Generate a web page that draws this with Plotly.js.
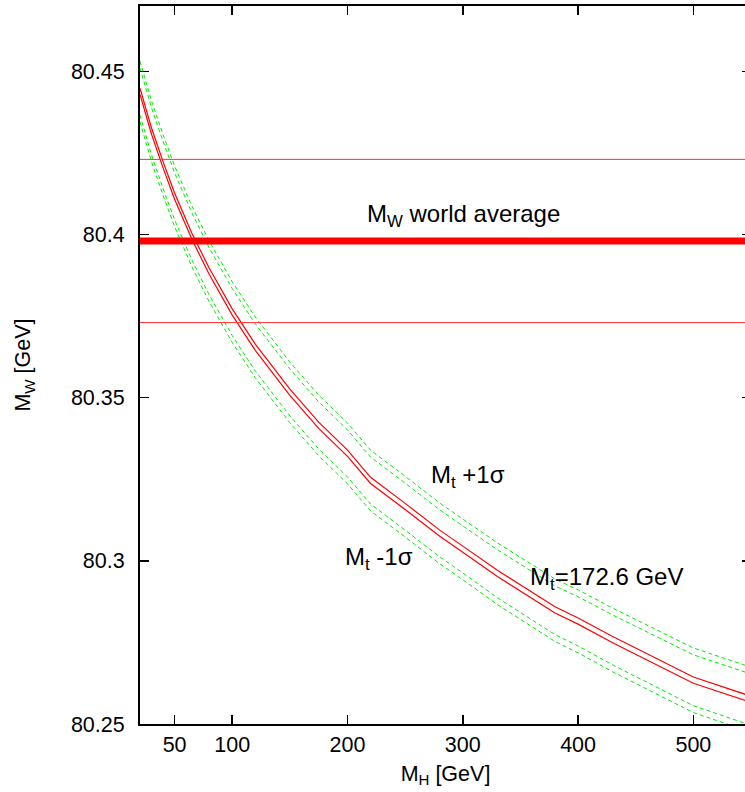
<!DOCTYPE html>
<html>
<head>
<meta charset="utf-8">
<script src="https://cdn.plot.ly/plotly-3.0.1.min.js"></script>
<style>
html, body { margin: 0; padding: 0; overflow: hidden; background: #fff; }
#chart { width: 752px; height: 792px; }
</style>
</head>
<body>
<div id="chart"></div>
<script>
// Higgs mass [GeV]
const mH = [20, 30, 40, 50, 65, 80, 100, 120, 150, 175, 200, 220, 250, 280, 300, 330, 380, 400, 430, 470, 500, 550];

// Central prediction, M_t = 172.6 GeV (two edges)
const mwCentralHi = [80.4448, 80.4326, 80.4223, 80.4127, 80.4004, 80.3897, 80.3772, 80.3664, 80.3526, 80.3425, 80.3339, 80.3256, 80.3176, 80.3094, 80.3045, 80.2971, 80.2859, 80.2825, 80.2768, 80.2697, 80.2644, 80.2585];
const mwCentralLo = [80.4429, 80.4307, 80.4204, 80.4108, 80.3985, 80.3878, 80.3753, 80.3645, 80.3507, 80.3406, 80.3320, 80.3237, 80.3157, 80.3075, 80.3026, 80.2952, 80.2840, 80.2806, 80.2749, 80.2678, 80.2625, 80.2566];

// M_t + 1 sigma (two edges)
const mwPlusHi = [80.4531, 80.4409, 80.4306, 80.4210, 80.4087, 80.3980, 80.3855, 80.3747, 80.3609, 80.3508, 80.3422, 80.3339, 80.3259, 80.3177, 80.3128, 80.3055, 80.2944, 80.2911, 80.2855, 80.2785, 80.2733, 80.2674];
const mwPlusLo = [80.4510, 80.4388, 80.4285, 80.4189, 80.4066, 80.3959, 80.3834, 80.3726, 80.3588, 80.3487, 80.3401, 80.3318, 80.3238, 80.3156, 80.3107, 80.3034, 80.2923, 80.2890, 80.2834, 80.2764, 80.2712, 80.2653];

// M_t - 1 sigma (two edges)
const mwMinusHi = [80.4366, 80.4244, 80.4141, 80.4045, 80.3922, 80.3815, 80.3690, 80.3582, 80.3444, 80.3343, 80.3257, 80.3174, 80.3094, 80.3012, 80.2963, 80.2887, 80.2774, 80.2739, 80.2681, 80.2609, 80.2556, 80.2496];
const mwMinusLo = [80.4345, 80.4223, 80.4120, 80.4024, 80.3901, 80.3794, 80.3669, 80.3561, 80.3423, 80.3322, 80.3236, 80.3153, 80.3073, 80.2991, 80.2942, 80.2866, 80.2753, 80.2718, 80.2660, 80.2588, 80.2535, 80.2475];

// M_W world average and its 1-sigma band
const mwWorldAverage = [80.398];
const mwBandEdges = [80.423, 80.373];

// Ticks
const xTickVals = [50, 100, 200, 300, 400, 500];
const yTickVals = [80.25, 80.3, 80.35, 80.4, 80.45];
const yTickText = ['80.25', '80.3', '80.35', '80.4', '80.45'];

const FONT = 'Liberation Sans, Arial, Helvetica, sans-serif';
const xSpan = [20, 550];

function curve(y, color, dash, width) {
  return {x: mH, y: y, mode: 'lines', type: 'scatter', hoverinfo: 'skip',
          line: {color: color, width: width, dash: dash}, showlegend: false};
}
function hline(v, width, color) {
  return {x: xSpan, y: [v, v], mode: 'lines', type: 'scatter', hoverinfo: 'skip',
          line: {color: color, width: width}, showlegend: false};
}

const green = 'rgb(0,235,0)';
const traces = [
  curve(mwPlusHi, green, '4px,3px', 1),
  curve(mwPlusLo, green, '4px,3px', 1),
  curve(mwMinusHi, green, '4px,3px', 1),
  curve(mwMinusLo, green, '4px,3px', 1),
  curve(mwCentralHi, '#ff0000', 'solid', 1.2),
  curve(mwCentralLo, '#ff0000', 'solid', 1.2)
];
mwBandEdges.forEach(v => traces.push(hline(v, 1, 'rgb(255,50,50)')));
mwWorldAverage.forEach(v => traces.push(hline(v, 7, '#ff0000')));

const TICK = 21.5;
const annFont = {family: FONT, size: 24, color: '#000'};
const layout = {
  width: 752, height: 792,
  margin: {l: 140, r: 1, t: 6, b: 68},
  paper_bgcolor: '#fff', plot_bgcolor: '#fff',
  font: {family: FONT, size: TICK, color: '#000'},
  showlegend: false,
  xaxis: {
    range: xSpan, showgrid: false, zeroline: false,
    showline: true, linecolor: '#000', linewidth: 2, mirror: 'ticks',
    ticks: 'inside', ticklen: 9, tickwidth: 1.5, tickcolor: '#000',
    tickmode: 'array', tickvals: xTickVals,
    tickfont: {family: FONT, size: TICK, color: '#000'},
    title: {text: 'M<sub>H</sub> [GeV]', font: {family: FONT, size: TICK, color: '#000'}, standoff: 10}
  },
  yaxis: {
    range: [80.25, 80.47], showgrid: false, zeroline: false,
    showline: true, linecolor: '#000', linewidth: 2, mirror: 'ticks',
    ticks: 'inside', ticklen: 9, tickwidth: 1.5, tickcolor: '#000',
    tickmode: 'array', tickvals: yTickVals, ticktext: yTickText,
    tickfont: {family: FONT, size: TICK, color: '#000'},
    ticklabelstandoff: 9,
    title: {text: 'M<sub>W</sub> [GeV]', font: {family: FONT, size: TICK, color: '#000'}, standoff: 34}
  },
  annotations: [
    {x: 215.2, y: 80.4059, xref: 'x', yref: 'y', text: 'M<sub>W</sub> world average', showarrow: false, xanchor: 'left', yanchor: 'middle', font: annFont},
    {x: 270.7, y: 80.3258, xref: 'x', yref: 'y', text: 'M<sub>t</sub> +1σ', showarrow: false, xanchor: 'left', yanchor: 'middle', font: annFont},
    {x: 196.1, y: 80.3007, xref: 'x', yref: 'y', text: 'M<sub>t</sub> -1σ', showarrow: false, xanchor: 'left', yanchor: 'middle', font: annFont},
    {x: 356.6, y: 80.2945, xref: 'x', yref: 'y', text: 'M<sub>t</sub>=172.6 GeV', showarrow: false, xanchor: 'left', yanchor: 'middle', font: annFont}
  ]
};

Plotly.newPlot('chart', traces, layout, {staticPlot: true, displayModeBar: false});
</script>
</body>
</html>
